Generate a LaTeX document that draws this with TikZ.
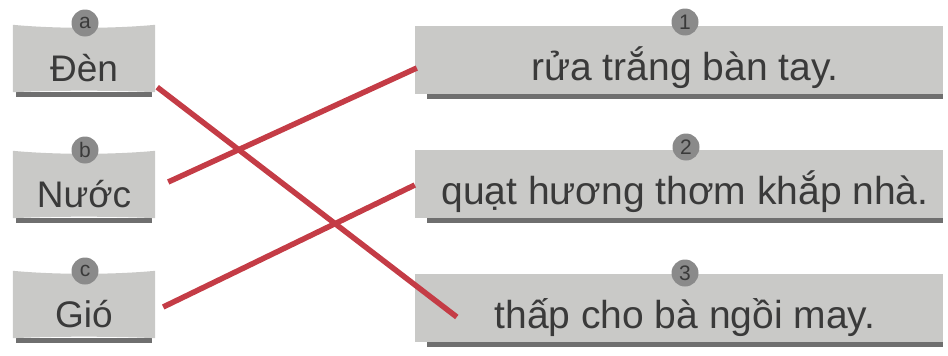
\documentclass[tikz,border=0pt]{standalone}
\usepackage{fontspec}
\setmainfont{Liberation Sans}
\usetikzlibrary{calc,backgrounds}
\definecolor{boxgrey}{HTML}{C9C9C7}
\definecolor{shadowgrey}{HTML}{6F6F6F}
\definecolor{circgrey}{HTML}{8A8A8A}
\definecolor{inkgrey}{HTML}{3A3A3A}
\definecolor{linkred}{HTML}{C43C46}
\begin{document}
\begin{tikzpicture}[x=1pt,y=-1pt,
  leftbox/.style={minimum width=142pt, minimum height=67pt, inner sep=0pt,
    text height=45pt, text depth=0pt, font=\fontsize{37}{40}\selectfont, text=inkgrey},
  rightbox/.style={minimum width=528pt, minimum height=68pt, inner sep=0pt,
    text height=40pt, text depth=0pt, font=\fontsize{39}{42}\selectfont, text=inkgrey},
  badge/.style={circle, fill=circgrey, minimum size=27pt, inner sep=0pt,
    text=inkgrey, font=\fontsize{21}{22}\selectfont},
  link/.style={draw=linkred, line width=5.5pt}]
\useasboundingbox (0,0) rectangle (948,356);

% left boxes
\node[leftbox] (boxa) at (84,58.5) {Đèn};
\node[leftbox] (boxb) at (84,184.5) {Nước};
\node[leftbox] (boxc) at (84,304.5) {Gió};
% right boxes
\node[rightbox] (box1) at (679,60) {\hspace*{12pt}rửa trắng bàn tay.};
\node[rightbox] (box2) at (679,184) {\hspace*{12pt}quạt hương thơm khắp nhà.};
\node[rightbox] (box3) at (679,308) {\hspace*{12pt}thấp cho bà ngồi may.};

% badges
\node[badge] (ca) at (85,23) {a};
\node[badge] (cb) at (85,150) {b};
\node[badge] (cc) at (85,271) {c};
\node[badge] (c1) at (685,22) {1};
\node[badge] (c2) at (686,147) {2};
\node[badge] (c3) at (685,273) {3};

\begin{scope}[on background layer]
  \foreach \n in {boxa,boxb,boxc}{
    \fill[shadowgrey] ($(\n.south west)+(3,0)$) rectangle ($(\n.south east)+(-3,5)$);
    \fill[boxgrey] (\n.north west)
      .. controls ($(\n.north west)!0.3!(\n.north east)+(0,4)$) and ($(\n.north west)!0.7!(\n.north east)+(0,4)$) .. (\n.north east)
      -- (\n.south east)
      .. controls ($(\n.south west)!0.7!(\n.south east)+(0,-2)$) and ($(\n.south west)!0.3!(\n.south east)+(0,-2)$) .. (\n.south west)
      -- cycle;
  }
  \foreach \n in {box1,box2,box3}{
    \fill[shadowgrey] ($(\n.south west)+(12,0)$) rectangle ($(\n.south east)+(0,5)$);
    \fill[boxgrey] (\n.north west) rectangle (\n.south east);
  }
\end{scope}

% connectors
\draw[link] ($(boxa.south east)+(2,-5)$) -- ($(box3.west)+(42,9)$);
\draw[link] ($(boxb.east)+(13,-2.5)$) -- ($(box1.west)+(2,8)$);
\draw[link] ($(boxc.east)+(8,2.5)$) -- ($(box2.west)+(0,1)$);
\end{tikzpicture}
\end{document}
